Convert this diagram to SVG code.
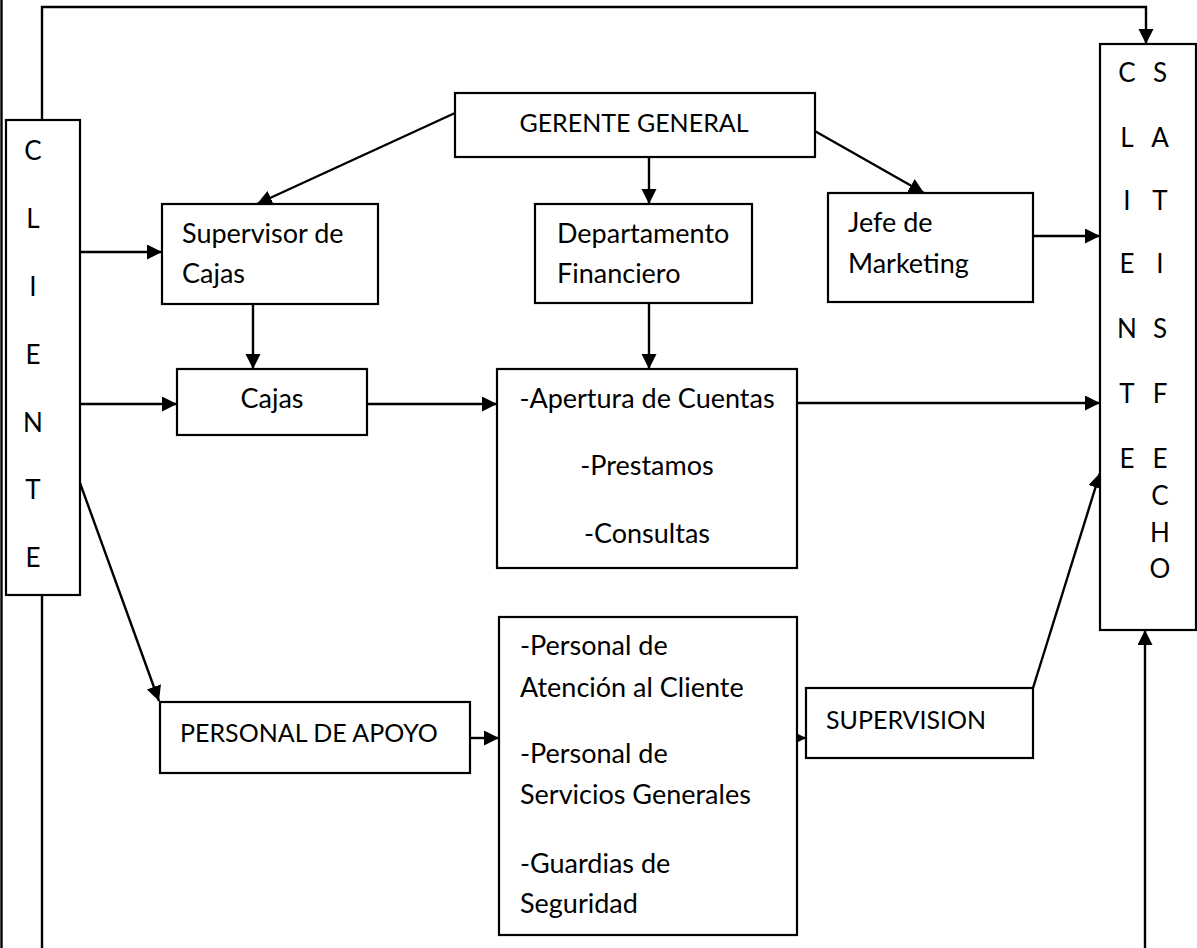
<svg xmlns="http://www.w3.org/2000/svg" width="1197" height="948" viewBox="0 0 1197 948">
<defs>
<marker id="arr" markerUnits="userSpaceOnUse" markerWidth="16" markerHeight="16" refX="15" refY="7.5" orient="auto">
<path d="M0,0 L15,7.5 L0,15 z" fill="#000"/>
</marker>
<style>
.box{fill:#fff;stroke:#000;stroke-width:2.2}
.t{font-family:Lato,"Liberation Sans",sans-serif;font-size:27px;fill:#000}
.u{font-size:25px}
.l{font-size:26px}
.c{text-anchor:middle}
.ln{fill:none;stroke:#000;stroke-width:2.4}
.ar{fill:none;stroke:#000;stroke-width:2.4;marker-end:url(#arr)}
</style>
</defs>
<rect width="1197" height="948" fill="#fff"/>

<g id="connectors">
<line class="ln" x1="1.5" y1="0" x2="1.5" y2="948"/>
<polyline class="ar" points="42,120 42,7 1146,7 1146,44"/>
<line class="ln" x1="42" y1="595" x2="42" y2="948"/>
<line class="ar" x1="455" y1="113" x2="257" y2="204"/>
<line class="ar" x1="649" y1="157" x2="649" y2="204"/>
<line class="ar" x1="813" y1="130" x2="924" y2="193"/>
<line class="ar" x1="80" y1="252" x2="162" y2="252"/>
<line class="ar" x1="80" y1="404" x2="177" y2="404"/>
<line class="ar" x1="80" y1="483" x2="159" y2="701"/>
<line class="ar" x1="253" y1="304" x2="253" y2="369"/>
<line class="ar" x1="649" y1="303" x2="649" y2="369"/>
<line class="ar" x1="367" y1="404" x2="497" y2="404"/>
<line class="ar" x1="1033" y1="236" x2="1100" y2="236"/>
<line class="ar" x1="797" y1="403" x2="1100" y2="403"/>
<line class="ar" x1="470" y1="738" x2="499" y2="738"/>
<line class="ar" x1="797" y1="738" x2="806" y2="738"/>
<line class="ar" x1="1033" y1="688" x2="1100" y2="473"/>
<line class="ar" x1="1145" y1="948" x2="1145" y2="630"/>
</g>

<g id="cliente">
<rect class="box" x="6" y="120" width="74" height="475"/>
<text class="t l c" x="33" y="160">C</text>
<text class="t l c" x="33" y="228">L</text>
<text class="t l c" x="33" y="296">I</text>
<text class="t l c" x="33" y="364">E</text>
<text class="t l c" x="33" y="432">N</text>
<text class="t l c" x="33" y="499">T</text>
<text class="t l c" x="33" y="567">E</text>
</g>

<g id="satisfecho">
<rect class="box" x="1100" y="44" width="96" height="586"/>
<text class="t l c" x="1127" y="82">C</text>
<text class="t l c" x="1127" y="147">L</text>
<text class="t l c" x="1127" y="210">I</text>
<text class="t l c" x="1127" y="273">E</text>
<text class="t l c" x="1127" y="338">N</text>
<text class="t l c" x="1127" y="403">T</text>
<text class="t l c" x="1127" y="468">E</text>
<text class="t l c" x="1160" y="82">S</text>
<text class="t l c" x="1160" y="147">A</text>
<text class="t l c" x="1160" y="210">T</text>
<text class="t l c" x="1160" y="273">I</text>
<text class="t l c" x="1160" y="338">S</text>
<text class="t l c" x="1160" y="403">F</text>
<text class="t l c" x="1160" y="468">E</text>
<text class="t l c" x="1160" y="505">C</text>
<text class="t l c" x="1160" y="542">H</text>
<text class="t l c" x="1160" y="578">O</text>
</g>

<g id="gerente">
<rect class="box" x="455" y="93" width="360" height="64"/>
<text class="t u c" x="634" y="132">GERENTE GENERAL</text>
</g>

<g id="supervisor-cajas">
<rect class="box" x="162" y="204" width="216" height="100"/>
<text class="t" x="182" y="243">Supervisor de</text>
<text class="t" x="182" y="283">Cajas</text>
</g>

<g id="departamento">
<rect class="box" x="535" y="204" width="217" height="99"/>
<text class="t" x="557" y="243">Departamento</text>
<text class="t" x="557" y="283">Financiero</text>
</g>

<g id="jefe">
<rect class="box" x="828" y="193" width="205" height="109"/>
<text class="t" x="848" y="232">Jefe de</text>
<text class="t" x="848" y="273">Marketing</text>
</g>

<g id="cajas">
<rect class="box" x="177" y="369" width="190" height="66"/>
<text class="t c" x="272" y="408">Cajas</text>
</g>

<g id="apertura">
<rect class="box" x="497" y="369" width="300" height="199"/>
<text class="t c" x="647" y="408">-Apertura de Cuentas</text>
<text class="t c" x="647" y="475">-Prestamos</text>
<text class="t c" x="647" y="543">-Consultas</text>
</g>

<g id="personal-apoyo">
<rect class="box" x="160" y="702" width="310" height="71"/>
<text class="t u" x="180" y="742">PERSONAL DE APOYO</text>
</g>

<g id="personal">
<rect class="box" x="499" y="617" width="298" height="318"/>
<text class="t" x="520" y="655">-Personal de</text>
<text class="t" x="520" y="697">Atención al Cliente</text>
<text class="t" x="520" y="763">-Personal de</text>
<text class="t" x="520" y="804">Servicios Generales</text>
<text class="t" x="520" y="873">-Guardias de</text>
<text class="t" x="520" y="913">Seguridad</text>
</g>

<g id="supervision">
<rect class="box" x="806" y="688" width="227" height="70"/>
<text class="t u" x="826" y="729">SUPERVISION</text>
</g>
</svg>
